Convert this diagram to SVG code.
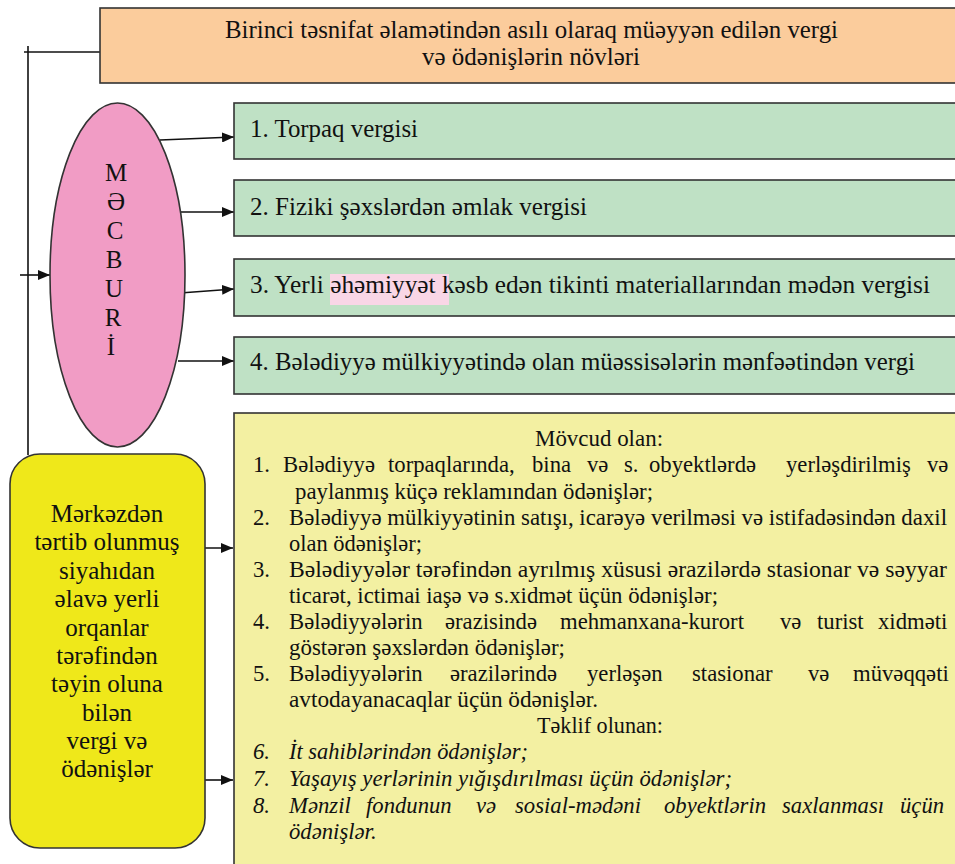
<svg xmlns="http://www.w3.org/2000/svg" width="955" height="864" viewBox="0 0 955 864">
<style>
.box{stroke:#333;stroke-width:1.6}
.t{font-family:"Liberation Serif","Times New Roman","DejaVu Serif",serif;fill:#111}
.h{font-size:25px}
.b{font-size:22.7px}
.i{font-style:italic}
.v{font-size:25px;text-anchor:middle}
.ln{stroke:#111;stroke-width:1.6;fill:none}
</style>
<defs>
<marker id="ar" markerUnits="userSpaceOnUse" markerWidth="12" markerHeight="10" refX="12" refY="5" orient="auto">
<path d="M0,0 L12,5 L0,10 z" fill="#111"/>
</marker>
</defs>
<rect width="955" height="864" fill="#fff"/>

<g id="connectors">
<path class="ln" d="M28,46 V455"/>
<path class="ln" d="M24,52 H100"/>
<path class="ln" d="M20,275 H50" marker-end="url(#ar)"/>
<path class="ln" d="M160,140 L234,137" marker-end="url(#ar)"/>
<path class="ln" d="M178,212 L234,212" marker-end="url(#ar)"/>
<path class="ln" d="M180,293 L234,289" marker-end="url(#ar)"/>
<path class="ln" d="M178,361 L234,361" marker-end="url(#ar)"/>
<path class="ln" d="M197,548 L233,548" marker-end="url(#ar)"/>
<path class="ln" d="M201,780 L233,780" marker-end="url(#ar)"/>
</g>

<g id="header">
<rect class="box" x="100" y="8" width="870" height="75" fill="#fbcc9c"/>
<text class="t h" x="225" y="38" textLength="613" lengthAdjust="spacingAndGlyphs">Birinci təsnifat əlamətindən asılı olaraq müəyyən edilən vergi</text>
<text class="t h" x="531" y="65" text-anchor="middle">və ödənişlərin növləri</text>
</g>

<g id="mecburi">
<ellipse class="box" cx="117.5" cy="275" rx="67.5" ry="172" fill="#f19cc5"/>
<text class="t v" x="116" y="181">M</text>
<text class="t v" x="116" y="210">Ə</text>
<text class="t v" x="115" y="239">C</text>
<text class="t v" x="114" y="268">B</text>
<text class="t v" x="114" y="297">U</text>
<text class="t v" x="113" y="326">R</text>
<text class="t v" x="111" y="355">İ</text>
</g>

<g id="item1">
<rect class="box" x="234" y="103" width="740" height="56" fill="#bfe1c5"/>
<text class="t h" x="250" y="137" textLength="168" lengthAdjust="spacingAndGlyphs">1. Torpaq vergisi</text>
</g>
<g id="item2">
<rect class="box" x="234" y="180" width="740" height="56" fill="#bfe1c5"/>
<text class="t h" x="250" y="215" textLength="337" lengthAdjust="spacingAndGlyphs">2. Fiziki şəxslərdən əmlak vergisi</text>
</g>
<g id="item3">
<rect class="box" x="234" y="259" width="740" height="57" fill="#bfe1c5"/>
<rect x="330" y="274" width="119" height="31" fill="#f9d6e6"/>
<text class="t h" x="250" y="293" textLength="680" lengthAdjust="spacingAndGlyphs">3. Yerli əhəmiyyət kəsb edən tikinti materiallarından mədən vergisi</text>
</g>
<g id="item4">
<rect class="box" x="234" y="337" width="740" height="57" fill="#bfe1c5"/>
<text class="t h" x="250" y="370" textLength="665" lengthAdjust="spacingAndGlyphs">4. Bələdiyyə mülkiyyətində olan müəssisələrin mənfəətindən vergi</text>
</g>

<g id="yerli">
<rect class="box" x="10" y="454" width="195" height="394" rx="30" ry="30" fill="#efe81a"/>
<text class="t v" x="107" y="522">Mərkəzdən</text>
<text class="t v" x="107" y="550">tərtib olunmuş</text>
<text class="t v" x="107" y="579">siyahıdan</text>
<text class="t v" x="107" y="607">əlavə yerli</text>
<text class="t v" x="107" y="636">orqanlar</text>
<text class="t v" x="107" y="664">tərəfindən</text>
<text class="t v" x="107" y="692">təyin oluna</text>
<text class="t v" x="107" y="721">bilən</text>
<text class="t v" x="107" y="749">vergi və</text>
<text class="t v" x="107" y="777">ödənişlər</text>
</g>

<g id="odenisler">
<rect class="box" x="234" y="413" width="740" height="470" fill="#f3f0a2"/>
<text class="t b" x="535" y="446" textLength="128" lengthAdjust="spacingAndGlyphs">Mövcud olan:</text>
<text class="t b" y="472"><tspan x="253">1.</tspan><tspan x="283">Bələdiyyə</tspan><tspan x="388">torpaqlarında,</tspan><tspan x="532">bina</tspan><tspan x="587">və</tspan><tspan x="624">s.</tspan><tspan x="649">obyektlərdə</tspan><tspan x="786">yerləşdirilmiş</tspan><tspan x="927">və</tspan></text>
<text class="t b" x="295" y="499" textLength="358" lengthAdjust="spacingAndGlyphs">paylanmış küçə reklamından ödənişlər;</text>
<text class="t b" x="253" y="525">2.</text>
<text class="t b" x="289" y="525" textLength="658" lengthAdjust="spacingAndGlyphs">Bələdiyyə mülkiyyətinin satışı, icarəyə verilməsi və istifadəsindən daxil</text>
<text class="t b" x="289" y="551" textLength="133" lengthAdjust="spacingAndGlyphs">olan ödənişlər;</text>
<text class="t b" x="253" y="577">3.</text>
<text class="t b" x="289" y="577" textLength="658" lengthAdjust="spacingAndGlyphs">Bələdiyyələr tərəfindən ayrılmış xüsusi ərazilərdə stasionar və səyyar</text>
<text class="t b" x="289" y="603" textLength="429" lengthAdjust="spacingAndGlyphs">ticarət, ictimai iaşə və s.xidmət üçün ödənişlər;</text>
<text class="t b" y="629"><tspan x="253">4.</tspan><tspan x="289">Bələdiyyələrin</tspan><tspan x="445">ərazisində</tspan><tspan x="560">mehmanxana-kurort</tspan><tspan x="780">və</tspan><tspan x="817">turist</tspan><tspan x="878">xidməti</tspan></text>
<text class="t b" x="289" y="655" textLength="276" lengthAdjust="spacingAndGlyphs">göstərən şəxslərdən ödənişlər;</text>
<text class="t b" y="681"><tspan x="253">5.</tspan><tspan x="289">Bələdiyyələrin</tspan><tspan x="450">ərazilərində</tspan><tspan x="587">yerləşən</tspan><tspan x="692">stasionar</tspan><tspan x="808">və</tspan><tspan x="853">müvəqqəti</tspan></text>
<text class="t b" x="289" y="707" textLength="309" lengthAdjust="spacingAndGlyphs">avtodayanacaqlar üçün ödənişlər.</text>
<text class="t b" x="537" y="733" textLength="126" lengthAdjust="spacingAndGlyphs">Təklif olunan:</text>
<text class="t b i" x="253" y="759">6.</text>
<text class="t b i" x="289" y="759" textLength="239" lengthAdjust="spacingAndGlyphs">İt sahiblərindən ödənişlər;</text>
<text class="t b i" x="253" y="786">7.</text>
<text class="t b i" x="289" y="786" textLength="443" lengthAdjust="spacingAndGlyphs">Yaşayış yerlərinin yığışdırılması üçün ödənişlər;</text>
<text class="t b i" y="813"><tspan x="253">8.</tspan><tspan x="289">Mənzil</tspan><tspan x="366">fondunun</tspan><tspan x="476">və</tspan><tspan x="515">sosial-mədəni</tspan><tspan x="664">obyektlərin</tspan><tspan x="782">saxlanması</tspan><tspan x="900">üçün</tspan></text>
<text class="t b i" x="289" y="839">ödənişlər.</text>
</g>
</svg>
